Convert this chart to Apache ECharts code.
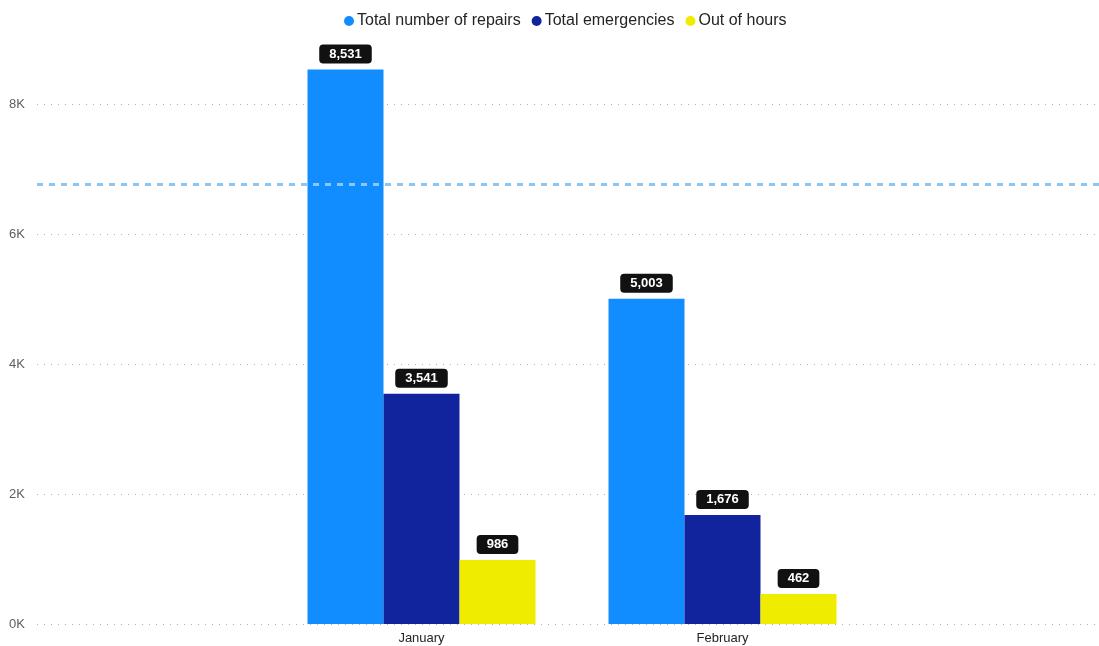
<!DOCTYPE html>
<html>
<head>
<meta charset="utf-8">
<script src="https://cdn.jsdelivr.net/npm/echarts@6/dist/echarts.min.js"></script>
<style>html,body{margin:0;padding:0;background:#fff;}#c{width:1099px;height:646px;}</style>
</head>
<body>
<div id="c"></div>
<script>
const categories = ['January', 'February'];
const repairs = [8531, 5003];
const emergencies = [3541, 1676];
const outOfHours = [986, 462];
const seriesNames = ['Total number of repairs', 'Total emergencies', 'Out of hours'];
const colors = ['#118DFF', '#12239E', '#F0EC00'];

const chart = echarts.init(document.getElementById('c'));
const fmt = v => Number(v).toLocaleString('en-US');
const lbl = {
  show: true, position: 'top', distance: 6,
  formatter: p => fmt(p.value),
  color: '#fff', fontWeight: 'bold', fontSize: 13, fontFamily: 'Arial, Liberation Sans, sans-serif',
  backgroundColor: '#111', borderRadius: 4, padding: [3, 10, 3, 10]
};
function bar(name, data, color) {
  return { name, type: 'bar', xAxisIndex: 1, yAxisIndex: 1, data, barWidth: 76, barGap: '0%',
    itemStyle: { color }, label: lbl, emphasis: { disabled: true } };
}
chart.setOption({
  animation: false,
  color: colors,
  textStyle: { fontFamily: 'Arial, Liberation Sans, sans-serif' },
  legend: {
    data: seriesNames, top: 8, left: 339, icon: 'circle', itemWidth: 10, itemHeight: 10,
    itemGap: 11, textStyle: { fontSize: 16, color: '#252423', padding: [0, 0, 0, -2] }
  },
  grid: [
    { left: 37, right: 0, top: 104, bottom: 22 },
    { left: 271, width: 602, top: 39, bottom: 22 }
  ],
  xAxis: [
    { gridIndex: 0, type: 'category', data: categories, show: false },
    { gridIndex: 1, type: 'category', data: categories,
      axisLine: { show: false }, axisTick: { show: false },
      axisLabel: { color: '#252423', fontSize: 13, margin: 8 } }
  ],
  yAxis: [
    { gridIndex: 0, type: 'value', min: 0, max: 8000, interval: 2000,
      axisLine: { show: false }, axisTick: { show: false },
      axisLabel: { formatter: v => (v / 1000) + 'K', color: '#605E5C', fontSize: 13, margin: 12 },
      splitLine: { lineStyle: { color: '#B3B0AD', type: [1, 6], width: 1 } } },
    { gridIndex: 1, type: 'value', min: 0, max: 9000, show: false, splitLine: { show: false } }
  ],
  series: [
    bar(seriesNames[0], repairs, colors[0]),
    bar(seriesNames[1], emergencies, colors[1]),
    bar(seriesNames[2], outOfHours, colors[2]),
    { name: 'avg', type: 'line', xAxisIndex: 0, yAxisIndex: 0, data: repairs, symbol: 'none',
      lineStyle: { opacity: 0 }, silent: true, z: 1,
      markLine: { symbol: 'none', silent: true, label: { show: false },
        lineStyle: { color: '#8CC5F7', type: [6, 6], width: 3 },
        data: [{ type: 'average' }] } }
  ]
});
</script>
</body>
</html>
